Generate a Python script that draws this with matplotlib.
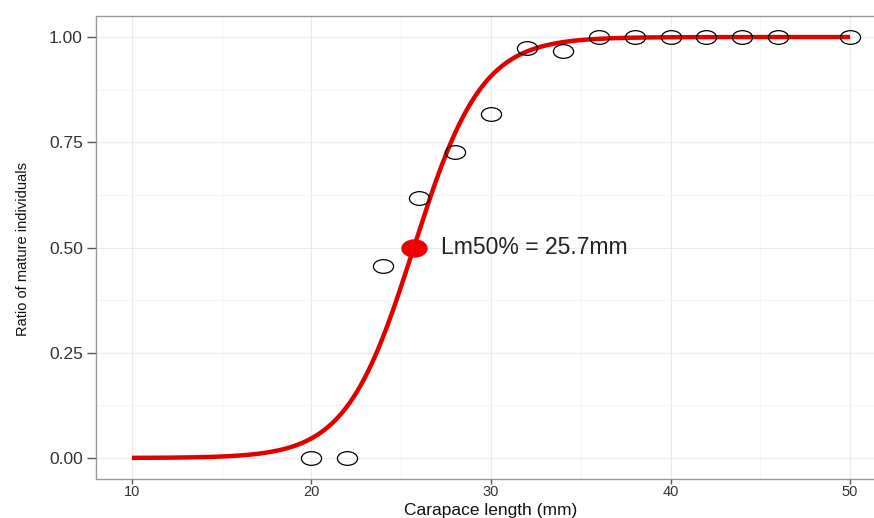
import matplotlib
matplotlib.use('Agg')
import matplotlib.pyplot as plt
from matplotlib.path import Path
from matplotlib.transforms import Affine2D
import numpy as np

# observed ratio of mature individuals per size class
length_mm = [20, 22, 24, 26, 28, 30, 32, 34, 36, 38, 40, 42, 44, 46, 50]
ratio_mature = [0.0, 0.0, 0.455, 0.617, 0.728, 0.816, 0.974, 0.966,
                1.0, 1.0, 1.0, 1.0, 1.0, 1.0, 1.0]

# fitted logistic model
lm50 = 25.7
slope = 0.53
curve_range = [10, 50]

x_ticks = [10, 20, 30, 40, 50]
y_ticks = [0.00, 0.25, 0.50, 0.75, 1.00]

plt.rcParams['font.family'] = ['Liberation Sans', 'DejaVu Sans']

# the picture is stretched sideways, so markers are flat ellipses
flat_circle = Path.unit_circle().transformed(Affine2D().scale(1.0, 0.68))

fig = plt.figure(figsize=(8.74, 5.18), dpi=100)
ax = fig.add_axes([96/874, 39/518, 790/874, 463/518])

x_fit = np.linspace(curve_range[0], curve_range[1], 400)
y_fit = 1.0/(1.0 + np.exp(-slope*(x_fit - lm50)))
ax.plot(x_fit, y_fit, color='#e00000', lw=3.2, zorder=3, solid_capstyle='butt')

ax.plot(length_mm, ratio_mature, ls='none', marker=flat_circle, markersize=14.5,
        markerfacecolor='none', markeredgecolor='black', markeredgewidth=0.9, zorder=4)

ax.plot([lm50], [0.5], ls='none', marker=flat_circle, markersize=18,
        color='#f00000', zorder=5)
ax.text(27.2, 0.5, 'Lm50% = 25.7mm', fontsize=16.5, va='center', ha='left', color='#222222')

ax.set_xlim(8, 52)
ax.set_ylim(-0.05, 1.05)
ax.set_xticks(x_ticks)
ax.set_yticks(y_ticks)
ax.set_xticks([15, 25, 35, 45], minor=True)
ax.set_yticks([0.125, 0.375, 0.625, 0.875], minor=True)
ax.set_yticklabels(['%.2f' % v for v in y_ticks])
ax.grid(True, which='major', color='#ebebeb', lw=0.8)
ax.grid(True, which='minor', color='#f4f4f4', lw=0.6)
ax.set_axisbelow(True)
ax.tick_params(which='major', width=1, color='#555555', labelcolor='#333333')
ax.tick_params(axis='x', length=3.4, pad=1.2, labelsize=10.5)
ax.tick_params(axis='y', length=6.5, pad=3, labelsize=12.5)
ax.tick_params(which='minor', length=0)
for s in ax.spines.values():
    s.set_color('#999999')
    s.set_linewidth(1)

fig.text(491/874, 3.2/518, 'Carapace length (mm)', fontsize=12.5, ha='center',
         va='baseline', color='#111111')
fig.text(23/874, 0.519, 'Ratio of mature individuals', fontsize=10.5, rotation=90,
         ha='center', va='center', color='#111111')

plt.savefig('out.png', dpi=100)
